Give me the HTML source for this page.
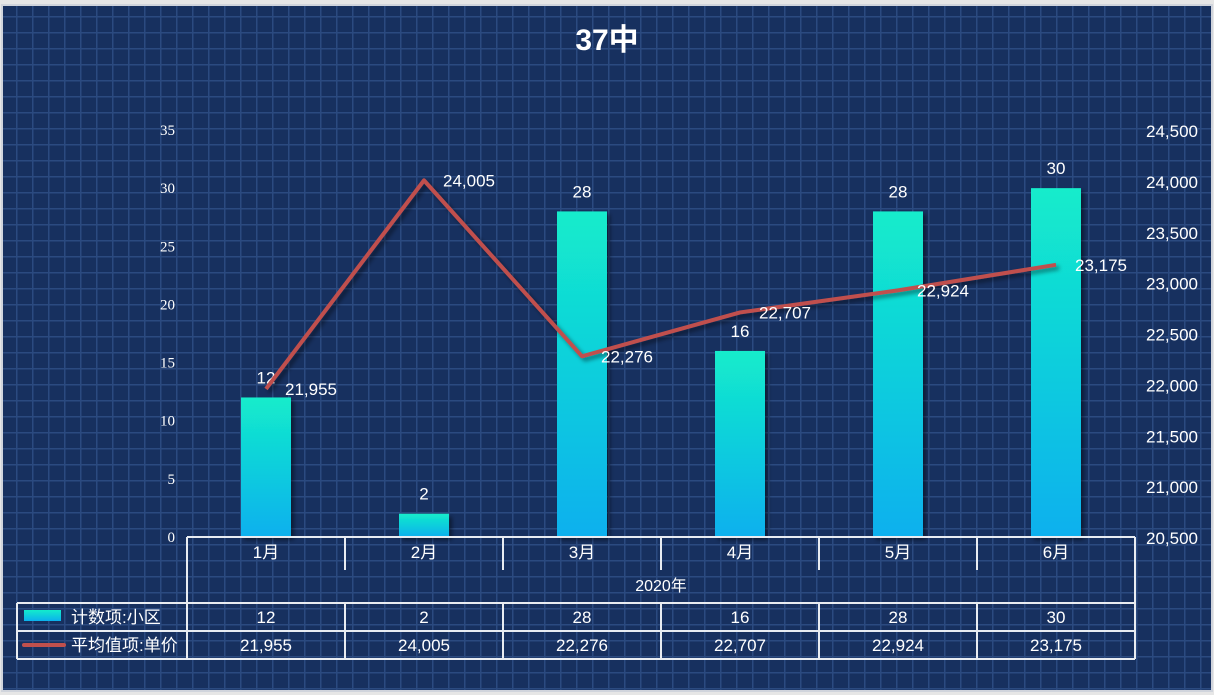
<!DOCTYPE html>
<html><head><meta charset="utf-8">
<style>
html,body{margin:0;padding:0;}
body{width:1214px;height:695px;overflow:hidden;background:#fff;font-family:"Liberation Sans","Noto Sans CJK SC",sans-serif;}
#chart{position:absolute;left:0;top:0;}
</style></head>
<body>
<svg id="chart" width="1214" height="695" xmlns="http://www.w3.org/2000/svg">
<defs>
<pattern id="grid" width="16" height="16" patternUnits="userSpaceOnUse">
<rect width="16" height="16" fill="#17305f"/>
<path d="M0 0.5H16M0.5 0V16" stroke="#2b4a80" stroke-width="2"/>
</pattern>
<linearGradient id="barg" x1="0" y1="0" x2="0" y2="1">
<stop offset="0" stop-color="#13eccb"/><stop offset="1" stop-color="#0bb0ee"/>
</linearGradient>
<filter id="sh" x="-20%" y="-20%" width="150%" height="150%"><feDropShadow dx="3" dy="3" stdDeviation="2" flood-color="#000" flood-opacity="0.45"/></filter>
</defs>
<rect x="0" y="0" width="1214" height="695" fill="#e6e6e6"/>
<rect x="2" y="5" width="1210" height="686" fill="url(#grid)" stroke="#d0d4dc" stroke-width="2"/>
<text x="607" y="50" text-anchor="middle" font-size="30" font-weight="bold" fill="#fff">37中</text>
<g id="axes"></g>
<g id="marks"></g>
<g id="table"></g>
</svg>
<script>
const categories=["1月","2月","3月","4月","5月","6月"];
const countValues=[12,2,28,16,28,30];
const priceValues=[21955,24005,22276,22707,22924,23175];
const leftTicks=[0,5,10,15,20,25,30,35];
const rightTicks=[20500,21000,21500,22000,22500,23000,23500,24000,24500];
const groupLabel="2020年";
const seriesNames=["计数项:小区","平均值项:单价"];

const NS="http://www.w3.org/2000/svg";
const x0=187,colW=158,yBase=537,yTop=130;
const yL=v=>yBase-(v-0)/(35-0)*(yBase-yTop);
const yR=v=>yBase-(v-20500)/(24500-20500)*(yBase-yTop);
const xC=i=>x0+colW*i+colW/2;
const fmt=v=>v.toLocaleString("en-US");
function mk(tag,attrs,parent,text){const e=document.createElementNS(NS,tag);for(const k in attrs)e.setAttribute(k,attrs[k]);if(text!==undefined)e.textContent=text;parent.appendChild(e);return e;}
const axes=document.getElementById("axes"),marks=document.getElementById("marks"),table=document.getElementById("table");

leftTicks.forEach(t=>{const e=mk("text",{x:175,y:yL(t)+5,"text-anchor":"end","font-size":"15","font-family":"Liberation Serif, serif",fill:"#fff"},axes,String(t));

});
rightTicks.forEach(t=>{const e=mk("text",{x:1146,y:yR(t)+7,"font-size":"17",fill:"#fff"},axes,fmt(t));

});

const bw=50;
countValues.forEach((v,i)=>{const r=mk("rect",{x:xC(i)-bw/2,y:yL(v),width:bw,height:yBase-yL(v),fill:"url(#barg)",filter:"url(#sh)"},marks);


const t=mk("text",{x:xC(i),y:yL(v)-14,"text-anchor":"middle","font-size":"17",fill:"#fff"},marks,String(v));

});

const pts=priceValues.map((v,i)=>xC(i)+","+yR(v)).join(" ");
const pl=mk("polyline",{points:pts,fill:"none",stroke:"#c0504d","stroke-width":"4","stroke-linejoin":"round",filter:"url(#sh)"},marks);


priceValues.forEach((v,i)=>{const t=mk("text",{x:xC(i)+19,y:yR(v)+6,"font-size":"17",fill:"#fff"},marks,fmt(v));

});

const ln=(x1,y1,x2,y2)=>mk("line",{x1,y1,x2,y2,stroke:"#e8ecf2","stroke-width":"2"},table);
ln(x0,yBase,x0+colW*6,yBase);
ln(x0,yBase,x0,659);
for(let i=1;i<=6;i++)ln(x0+colW*i,yBase,x0+colW*i,i==6?659:570);
for(let i=1;i<6;i++)ln(x0+colW*i,603,x0+colW*i,659);
ln(17,603,x0+colW*6,603);ln(17,631,x0+colW*6,631);ln(17,659,x0+colW*6,659);ln(17,603,17,659);
categories.forEach((c,i)=>{const t=mk("text",{x:xC(i),y:558,"text-anchor":"middle","font-size":"17",fill:"#fff"},table,c);


const a=mk("text",{x:xC(i),y:623,"text-anchor":"middle","font-size":"17",fill:"#fff"},table,String(countValues[i]));


const b=mk("text",{x:xC(i),y:651,"text-anchor":"middle","font-size":"17",fill:"#fff"},table,fmt(priceValues[i]));

});
const g=mk("text",{x:x0+colW*3,y:591,"text-anchor":"middle","font-size":"16",fill:"#fff"},table,groupLabel);


const k1=mk("rect",{x:24,y:610,width:37,height:11,fill:"url(#barg)"},table);


const k2=mk("line",{x1:24,y1:645,x2:64,y2:645,stroke:"#c0504d","stroke-width":"4","stroke-linecap":"round"},table);


seriesNames.forEach((s,i)=>{const t=mk("text",{x:71,y:623+28*i,"font-size":"17",fill:"#fff"},table,s);

});
</script>
</body></html>
